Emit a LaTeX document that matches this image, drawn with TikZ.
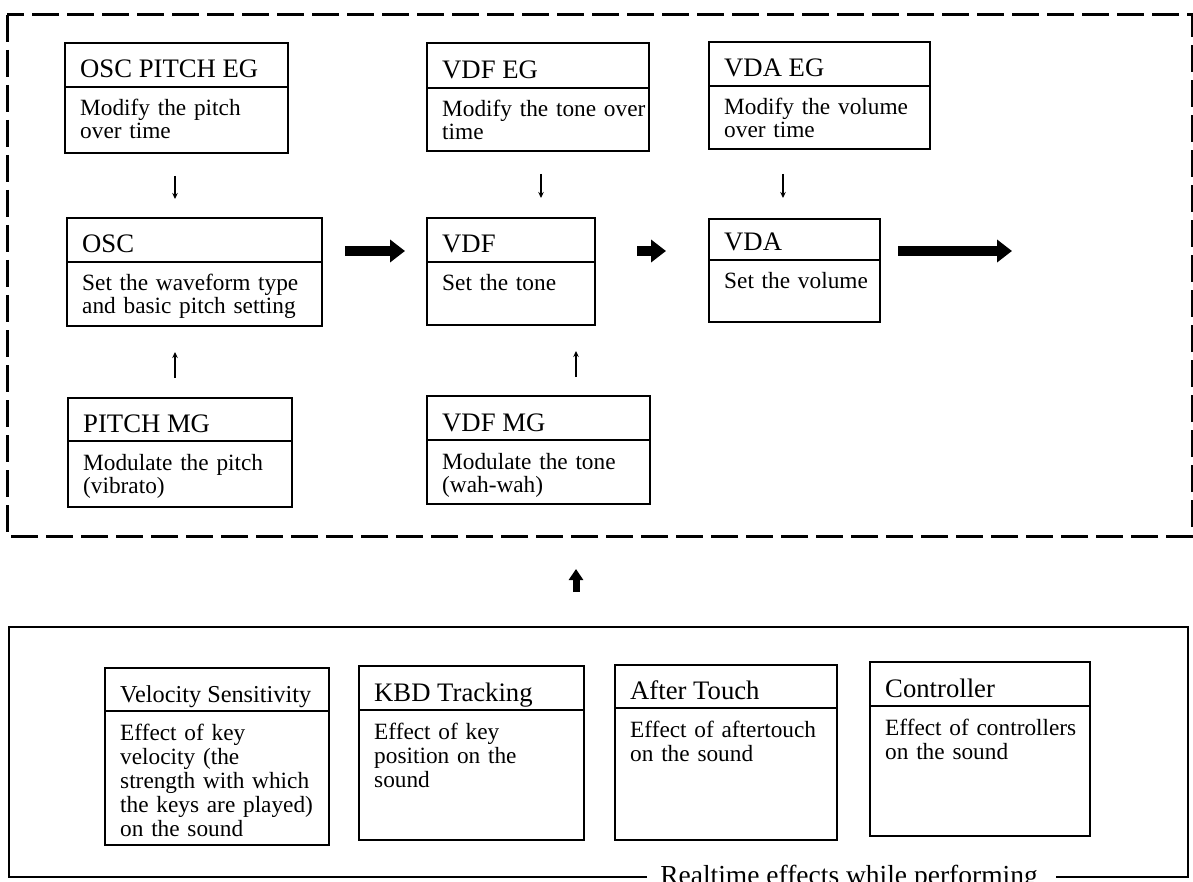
\documentclass[tikz,border=0pt]{standalone}
\usepackage{fontspec}
\setmainfont{Liberation Serif}
\usetikzlibrary{arrows.meta,calc}

\tikzset{
  panel/.style={draw, line width=1.4pt, inner sep=0pt, outer sep=0pt},
  divider/.style={line width=1.2pt},
  ttl/.style={inner sep=0pt, font=\fontsize{26.7}{26.7}\selectfont},
  bdy/.style={inner sep=0pt, align=left, text width=320pt},
  dframe/.style={line width=3pt, dash pattern=on 27pt off 8pt},
  sframe/.style={line width=2.5pt},
  fat/.style={line width=10pt, -{Triangle[length=15pt,width=22pt]}},
  fatup/.style={line width=7pt, -{Triangle[length=11pt,width=14pt]}},
  thinarrow/.style={line width=1.2pt, -{Stealth[length=6pt,width=5.5pt]}},
}

% #1 name, #2 x1, #3 y1, #4 x2, #5 y2, #6 divider y, #7 title, #8 body, #9 leading
\newcommand\synthbox[9]{%
  \node[panel, anchor=north west, minimum width={(#4)-(#2)}, minimum height={(#5)-(#3)}] (#1) at (#2,#3) {};
  \draw[divider] (#1.west |- 0,#6) -- (#1.east |- 0,#6);
  \node[ttl, anchor=base west] (#1-t) at (#2+15,#6-9) {#7};
  \node[bdy, anchor=base west, font=\fontsize{23.3}{#9}\selectfont] (#1-b) at (#2+15,#6+29) {#8};
}

\begin{document}
\begin{tikzpicture}[x=1pt,y=-1pt]
\useasboundingbox (0,0) rectangle (1193,882);

% frames
\coordinate (dnw) at (7,15);
\coordinate (dse) at (1192,536);
\draw[dframe] (dnw) rectangle (dse);

\coordinate (bnw) at (9,627);
\coordinate (bse) at (1188,877);
\coordinate (gapL) at (647,877);
\coordinate (gapR) at (1056,877);
\draw[sframe] (gapL) -- (bnw |- bse) -- (bnw) -- (bse |- bnw) -- (bse) -- (gapR);
\node[ttl, anchor=base, font=\fontsize{27.5}{27.5}\selectfont] (rt) at (849,884) {Realtime effects while performing};

% upper boxes
\synthbox{osceg}{65}{43}{288}{153}{87}{OSC PITCH EG}{Modify the pitch\\over time}{23}
\synthbox{vdfeg}{427}{43}{649}{151}{88}{VDF EG}{Modify the tone over\\time}{23}
\synthbox{vdaeg}{709}{42}{930}{149}{86}{VDA EG}{Modify the volume\\over time}{23}

\synthbox{osc}{67}{218}{322}{326}{262}{OSC}{Set the waveform type\\and basic pitch setting}{23}
\synthbox{vdf}{427}{218}{595}{325}{262}{VDF}{Set the tone}{23}
\synthbox{vda}{709}{219}{880}{322}{260}{VDA}{Set the volume}{23}

\synthbox{pitchmg}{68}{398}{292}{507}{441}{PITCH MG}{Modulate the pitch\\(vibrato)}{23}
\synthbox{vdfmg}{427}{396}{650}{504}{440}{VDF MG}{Modulate the tone\\(wah-wah)}{23}

% lower boxes
\synthbox{vel}{105}{668}{329}{845}{711}{\fontsize{24.3}{24.3}\selectfont Velocity Sensitivity}{Effect of key\\velocity (the\\strength with which\\the keys are played)\\on the sound}{24.2}
\synthbox{kbd}{359}{666}{584}{840}{710}{KBD Tracking}{Effect of key\\position on the\\sound}{24.2}
\synthbox{at}{615}{665}{837}{840}{708}{After Touch}{Effect of aftertouch\\on the sound}{24.2}
\synthbox{ctl}{870}{662}{1090}{836}{706}{Controller}{Effect of controllers\\on the sound}{24.2}

% thin arrows (centred in the gaps)
\draw[thinarrow, shorten <=23pt, shorten >=19pt] (175,0 |- osceg.south) -- (175,0 |- osc.north);
\draw[thinarrow, shorten <=23pt, shorten >=20pt] (541,0 |- vdfeg.south) -- (541,0 |- vdf.north);
\draw[thinarrow, shorten <=25pt, shorten >=21pt] (783,0 |- vdaeg.south) -- (783,0 |- vda.north);
\draw[thinarrow, shorten <=20pt, shorten >=26pt] (175,0 |- pitchmg.north) -- (175,0 |- osc.south);
\draw[thinarrow, shorten <=19pt, shorten >=26pt] (576,0 |- vdfmg.north) -- (576,0 |- vdf.south);

% thick arrows
\coordinate (out) at (1012,251);
\draw[fat, shorten <=23pt, shorten >=22pt] (osc.east |- 0,251) -- (vdf.west |- 0,251);
\draw[fat, shorten <=42pt, shorten >=43pt] (vdf.east |- 0,251) -- (vda.west |- 0,251);
\draw[fat, shorten <=18pt] (vda.east |- out) -- (out);
\draw[fatup, shorten <=35pt, shorten >=33pt] (576,0 |- bnw) -- (576,0 |- dse);
\end{tikzpicture}
\end{document}
